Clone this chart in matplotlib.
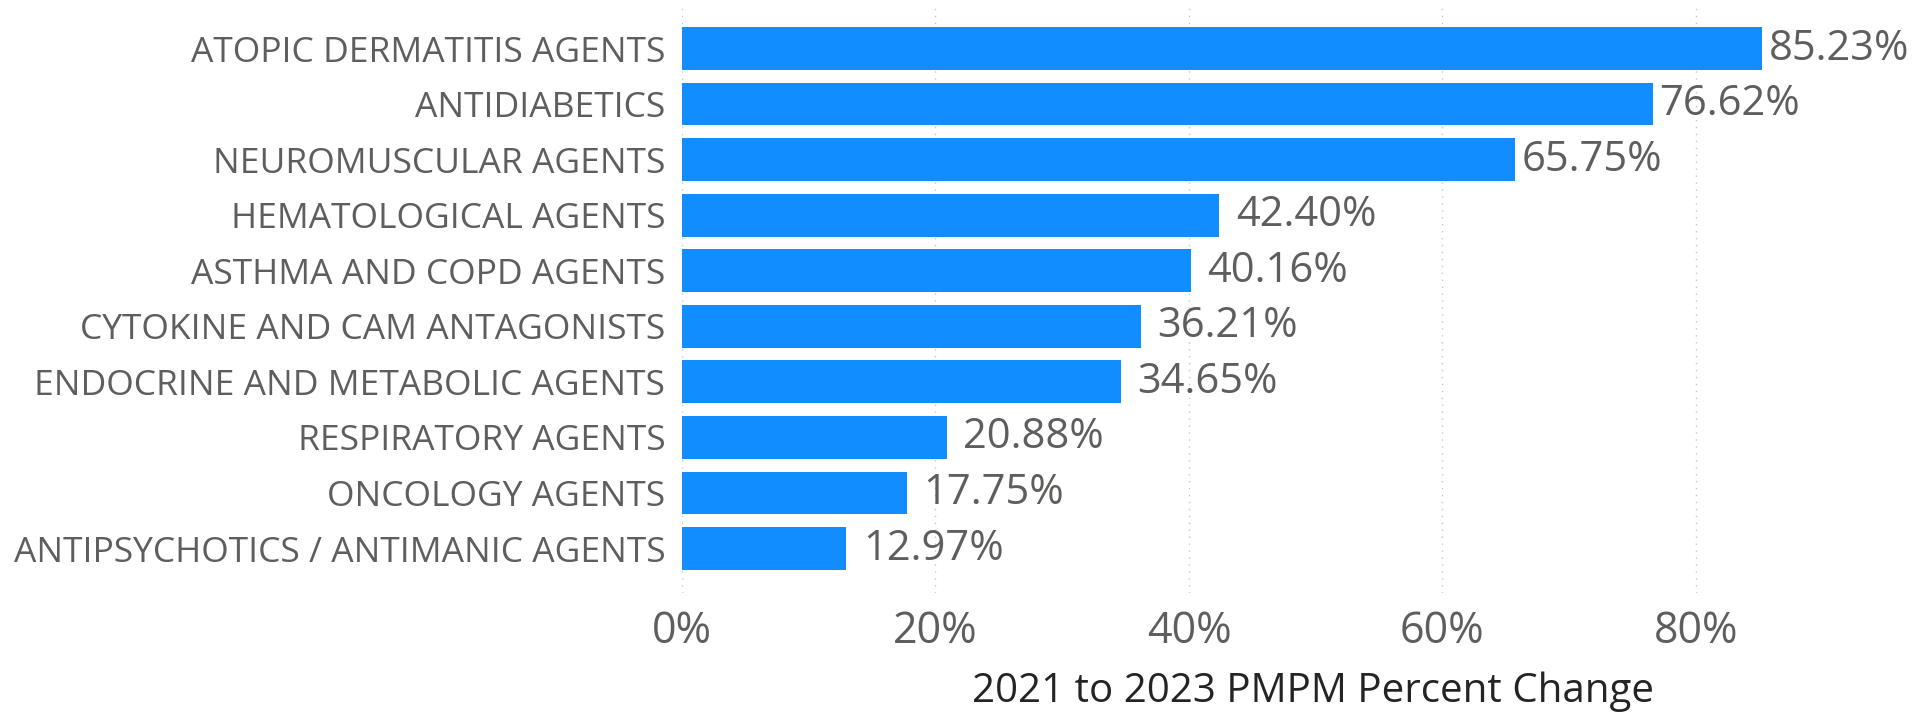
import matplotlib
matplotlib.use("Agg")
import matplotlib.pyplot as plt
from matplotlib.ticker import FuncFormatter

categories = [
    "ATOPIC DERMATITIS AGENTS",
    "ANTIDIABETICS",
    "NEUROMUSCULAR AGENTS",
    "HEMATOLOGICAL AGENTS",
    "ASTHMA AND COPD AGENTS",
    "CYTOKINE AND CAM ANTAGONISTS",
    "ENDOCRINE AND METABOLIC AGENTS",
    "RESPIRATORY AGENTS",
    "ONCOLOGY AGENTS",
    "ANTIPSYCHOTICS / ANTIMANIC AGENTS",
]
pct_change = [85.23, 76.62, 65.75, 42.40, 40.16, 36.21, 34.65, 20.88, 17.75, 12.97]
x_ticks = [0, 20, 40, 60, 80]

plt.rcParams["font.family"] = ["Open Sans", "DejaVu Sans"]

fig = plt.figure(figsize=(19.21, 7.17), dpi=100)
ax = fig.add_axes([682 / 1921, 1 - 593 / 717, (1905 - 682) / 1921, 585 / 717])

ypos = list(range(len(categories)))
ax.barh(ypos, pct_change, height=0.77, color="#118DFF")

# long bars get their labels pulled in closer
for y, v in zip(ypos, pct_change):
    gap = 0.5 if v > 60 else 1.3
    ax.text(v + gap, y, f"{v:.2f}%", va="center", ha="left",
            fontsize=30, color="#605E5C")

ax.set_yticks(ypos)
ax.set_yticklabels(categories, fontsize=25.5, color="#605E5C")
ax.set_ylim(len(categories) - 1 + 0.8, -0.73)
ax.set_xlim(0, 96.5)
ax.set_xticks(x_ticks)
ax.xaxis.set_major_formatter(FuncFormatter(lambda v, p: f"{v:.0f}%"))
ax.tick_params(axis="x", labelsize=31, labelcolor="#605E5C", length=0, pad=12)
ax.tick_params(axis="y", length=0, pad=12)
ax.grid(axis="x", color="#C8C6C4", linestyle=(0, (1, 4)), linewidth=1)
ax.set_axisbelow(True)
for s in ax.spines.values():
    s.set_visible(False)

ax.set_xlabel("2021 to 2023 PMPM Percent Change", fontsize=29, color="#252423",
              va="center")
ax.xaxis.set_label_coords(0.516, -0.168)

fig.savefig("out.png", dpi=100)
